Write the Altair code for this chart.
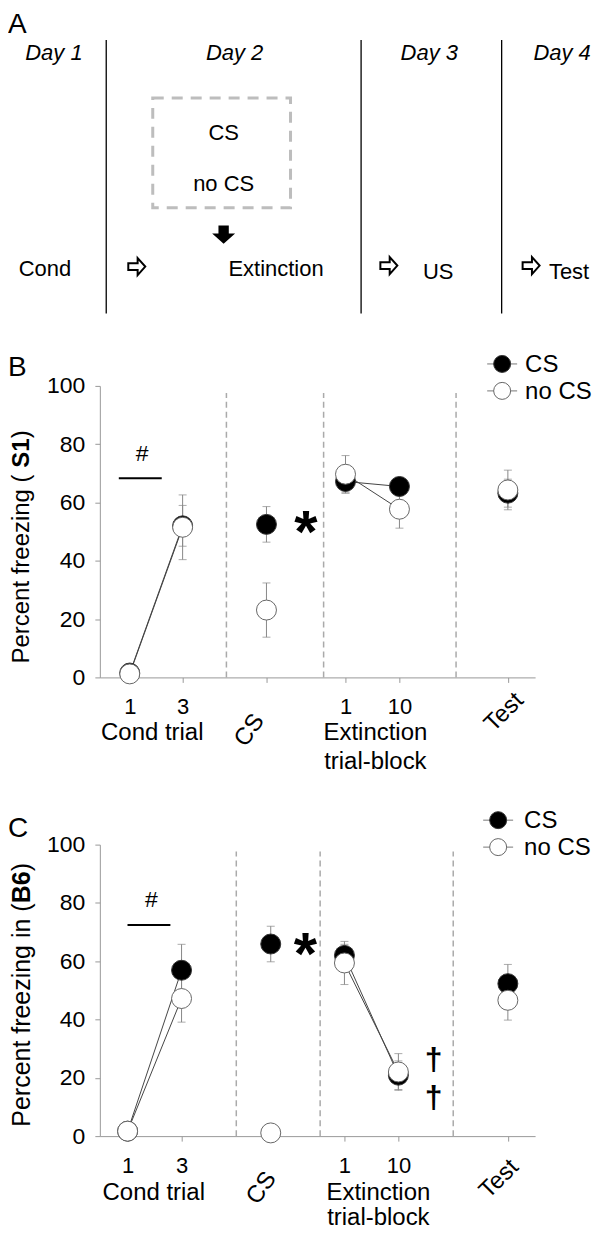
import altair as alt
import pandas as pd

FONT = "Liberation Sans"

# ---------------- data ----------------
stages = ["Cond 1", "Cond 3", "CS", "Ext 1", "Ext 10", "Test"]
tick_text = ["1", "3", "", "1", "10", ""]
segments = ["cond", "cond", "none", "ext", "ext", "none"]
groups = ["CS", "no CS"]

# Panel B (S1)
s1_cs_mean = [1.5, 52.0, 52.5, 67.2, 65.5, 63.2]
s1_cs_sem = [0.5, 7.0, 6.1, 4.0, 3.0, 4.8]
s1_nocs_mean = [1.2, 51.5, 23.1, 69.7, 57.7, 64.3]
s1_nocs_sem = [0.5, 11.1, 9.3, 6.4, 6.5, 6.8]

# Panel C (B6)
b6_cs_mean = [1.7, 56.9, 65.9, 62.0, 20.9, 52.3]
b6_cs_sem = [0.5, 8.9, 6.1, 3.8, 4.9, 6.6]
b6_nocs_mean = [1.7, 47.2, 1.1, 59.4, 22.0, 46.6]
b6_nocs_sem = [0.5, 8.1, 0.5, 7.4, 6.3, 6.8]

# Panel A schematic texts
day_labels = ["Day 1", "Day 2", "Day 3", "Day 4"]
box_labels = ["CS", "no CS"]
phase_labels = ["Cond", "Extinction", "US", "Test"]

# ---------------- layout ----------------
slots_B = {"Cond 1": 0.56, "Cond 3": 1.55, "CS": 3.12, "Ext 1": 4.6, "Ext 10": 5.61, "Test": 7.64}
slots_C = {"Cond 1": 0.52, "Cond 3": 1.53, "CS": 3.2, "Ext 1": 4.58, "Ext 10": 5.59, "Test": 7.64}
dividers_B = [2.37, 4.19, 6.67]
dividers_C = [2.555, 4.125, 6.617]

RIGHT_ARROW = "M-1,-0.4L0.1,-0.4L0.1,-1L1,0L0.1,1L0.1,0.4L-1,0.4Z"
DOWN_ARROW = "M-0.45,-0.8L0.45,-0.8L0.45,-0.1L1,-0.1L0,0.8L-1,-0.1L-0.45,-0.1Z"

W = 436
H = 292
dummy = pd.DataFrame({"k": [0]})


def lab(text, x, y, size=24, angle=0, weight="normal", align="center",
        baseline="middle", style="normal"):
    return alt.Chart(dummy).mark_text(
        text=text, fontSize=size, angle=angle, fontWeight=weight, align=align,
        baseline=baseline, fontStyle=style, color="black"
    ).encode(x=alt.value(x), y=alt.value(y))


# ---------------- Panel A ----------------
AXS = alt.Scale(domain=[100, 536], nice=False, zero=False)
AYS = alt.Scale(domain=[8, 217.5], nice=False, zero=False, reverse=True)


def ax(f):
    return alt.X(f, type="quantitative", scale=AXS, axis=None)


def ay(f):
    return alt.Y(f, type="quantitative", scale=AYS, axis=None)


a_lines = alt.Chart(pd.DataFrame({"x": [106.4, 361.7, 502.5], "y": [39] * 3, "y2": [313] * 3})).mark_rule(
    color="black", strokeWidth=1.3).encode(x=ax("x"), y=ay("y"), y2=alt.Y2("y2"))
a_box = alt.Chart(pd.DataFrame({"x": [153], "x2": [291], "y": [97], "y2": [207]})).mark_rect(
    fill="transparent", stroke="#bdbdbd", strokeWidth=3, strokeDash=[11, 8]
).encode(x=ax("x"), x2=alt.X2("x2"), y=ay("y"), y2=alt.Y2("y2"))
a_days = alt.Chart(pd.DataFrame({"label": day_labels, "x": [54, 235, 430, 563], "y": [52] * 4})).mark_text(
    fontSize=22, fontStyle="italic", baseline="middle", color="black"
).encode(x=ax("x"), y=ay("y"), text="label:N")
a_boxtxt = alt.Chart(pd.DataFrame({"label": box_labels, "x": [224, 224], "y": [132, 183]})).mark_text(
    fontSize=22, baseline="middle", color="black"
).encode(x=ax("x"), y=ay("y"), text="label:N")
a_phase = alt.Chart(pd.DataFrame({"label": phase_labels, "x": [45, 276.5, 439, 570],
                                  "y": [268.4, 268.4, 271.4, 271.4]})).mark_text(
    fontSize=22, baseline="middle", color="black"
).encode(x=ax("x"), y=ay("y"), text="label:N")
a_arrows = alt.Chart(pd.DataFrame({"x": [137, 389.5, 532], "y": [266, 265, 265]})).mark_point(
    shape=RIGHT_ARROW, size=289, filled=True, fill="white", stroke="black", strokeWidth=2, opacity=1
).encode(x=ax("x"), y=ay("y"))
a_down = alt.Chart(pd.DataFrame({"x": [224], "y": [234]})).mark_point(
    shape=DOWN_ARROW, size=529, filled=True, fill="black", opacity=1
).encode(x=ax("x"), y=ay("y"))
a_letter = alt.Chart(pd.DataFrame({"label": ["A"], "x": [8], "y": [32]})).mark_text(
    fontSize=28, align="left", baseline="alphabetic", color="black"
).encode(x=ax("x"), y=ay("y"), text="label:N")

panel_A = alt.layer(a_lines, a_box, a_days, a_boxtxt, a_phase, a_arrows, a_down, a_letter).properties(
    width=W, height=209.5)

# ---------------- Panels B, C ----------------
fill_scale = alt.Scale(domain=groups, range=["black", "white"])


def panel(letter, letter_y, cs_mean, cs_sem, nocs_mean, nocs_sem, slots, dividers,
          hash_xy, bar_x, bar_y, star_xy, daggers, title_parts, title_x, title_size,
          cond_x, cond_y, ext_x, ext_y, block_y, cs_lab, test_lab, legend_x, legend_ys, legend_tx):
    xsc = alt.Scale(domain=[0, 8.15], nice=False, zero=False)
    ysc = alt.Scale(domain=[0, 100], nice=False, zero=False)
    tick_vals = [slots[s] for s in stages]
    expr = "".join(f"datum.value == {slots[s]} ? '{t}' : " for s, t in zip(stages, tick_text)) + "''"
    xaxis = alt.Axis(values=tick_vals, labelExpr=expr, tickSize=5, labelPadding=14, labelFontSize=22,
                     labelColor="black", domainColor="#999", tickColor="#999", grid=False, title=None,
                     labelFlush=False, labelOverlap=False, labelFont=FONT)
    yaxis = alt.Axis(values=[0, 20, 40, 60, 80, 100], tickSize=5, labelPadding=10, labelFontSize=23,
                     labelColor="black", domainColor="#999", tickColor="#999", grid=False, title=None,
                     labelFont=FONT)

    def xe(f):
        return alt.X(f, type="quantitative", scale=xsc, axis=xaxis)

    def ye(f):
        return alt.Y(f, type="quantitative", scale=ysc, axis=yaxis)

    rows = []
    for g, means, sems in (("CS", cs_mean, cs_sem), ("no CS", nocs_mean, nocs_sem)):
        for st, m, s, seg in zip(stages, means, sems, segments):
            rows.append(dict(stage=st, group=g, mean=m, lo=m - s, hi=m + s, pos=slots[st], seg=seg))
    pts = pd.DataFrame(rows)
    base = alt.Chart(pts)

    div = alt.Chart(pd.DataFrame({"pos": dividers, "y0": [0] * 3, "y1": [97.6] * 3})).mark_rule(
        color="#aaa", strokeDash=[6, 4], strokeWidth=1.5).encode(x=xe("pos"), y=ye("y0"), y2=alt.Y2("y1"))
    lines = base.transform_filter("datum.seg != 'none'").mark_line(color="#444", strokeWidth=1).encode(
        x=xe("pos"), y=ye("mean"), detail=["group:N", "seg:N"])
    err = base.mark_rule(color="#888", strokeWidth=1).encode(x=xe("pos"), y=ye("lo"), y2=alt.Y2("hi"))
    cap_lo = base.mark_tick(orient="horizontal", size=8, thickness=1, color="#888").encode(
        x=xe("pos"), y=ye("lo"))
    cap_hi = base.mark_tick(orient="horizontal", size=8, thickness=1, color="#888").encode(
        x=xe("pos"), y=ye("hi"))
    p_cs = base.transform_filter("datum.group == 'CS'").mark_point(
        shape="circle", size=400, filled=True, opacity=1, stroke="#333", strokeWidth=1).encode(
        x=xe("pos"), y=ye("mean"), fill=alt.Fill("group:N", scale=fill_scale, legend=None))
    p_no = base.transform_filter("datum.group == 'no CS'").mark_point(
        shape="circle", size=400, filled=True, opacity=1, stroke="#666", strokeWidth=1).encode(
        x=xe("pos"), y=ye("mean"), fill=alt.Fill("group:N", scale=fill_scale, legend=None))

    bar = alt.Chart(pd.DataFrame({"x0": [bar_x[0]], "x1": [bar_x[1]], "y": [bar_y]})).mark_rule(
        color="black", strokeWidth=2).encode(x=xe("x0"), x2=alt.X2("x1"), y=ye("y"))
    hsh = alt.Chart(pd.DataFrame({"pos": [hash_xy[0]], "mean": [hash_xy[1]], "t": ["#"]})).mark_text(
        fontSize=23, baseline="middle", color="black").encode(x=xe("pos"), y=ye("mean"), text="t:N")
    star = alt.Chart(pd.DataFrame({"pos": [star_xy[0]], "mean": [star_xy[1]], "t": ["*"]})).mark_text(
        fontSize=60, fontWeight="bold", baseline="middle", dy=12, color="black").encode(
        x=xe("pos"), y=ye("mean"), text="t:N")
    layers = [div, lines, err, cap_lo, cap_hi, p_cs, p_no, bar, hsh, star]
    if daggers:
        dg = alt.Chart(pd.DataFrame({"pos": [d[0] for d in daggers], "mean": [d[1] for d in daggers],
                                     "t": ["\u2020"] * len(daggers)})).mark_text(
            fontSize=32, fontWeight="bold", baseline="middle", color="black").encode(
            x=xe("pos"), y=ye("mean"), text="t:N")
        layers.append(dg)

    # category labels under the axis
    layers += [
        lab("Cond trial", cond_x, cond_y),
        lab("Extinction", ext_x, ext_y),
        lab("trial-block", ext_x, block_y),
        lab("CS", cs_lab[0], cs_lab[1], angle=305),
        lab("Test", test_lab[0], test_lab[1], angle=315),
        lab(letter, -92, letter_y, size=28, align="left", baseline="alphabetic"),
    ]
    # y-axis title with a bold strain name
    for text, weight, y in title_parts:
        layers.append(lab(text, title_x, y, size=title_size, angle=270, weight=weight,
                          align="left"))
    # legend
    for g, ly in zip(groups, legend_ys):
        layers.append(alt.Chart(dummy).mark_rule(color="#777", strokeWidth=1).encode(
            x=alt.value(legend_x - 15), x2=alt.value(legend_x + 15), y=alt.value(ly)))
        layers.append(alt.Chart(pd.DataFrame({"group": [g]})).mark_point(
            shape="circle", size=289, filled=True, opacity=1,
            stroke="#333" if g == "CS" else "#666", strokeWidth=1).encode(
            x=alt.value(legend_x), y=alt.value(ly),
            fill=alt.Fill("group:N", scale=fill_scale, legend=None)))
        layers.append(lab(g, legend_tx, ly + 1, align="left"))
    return alt.layer(*layers).properties(width=W, height=H)


panel_B = panel(
    "B", -10, s1_cs_mean, s1_cs_sem, s1_nocs_mean, s1_nocs_sem, slots_B, dividers_B,
    hash_xy=(0.794, 76.8), bar_x=(0.355, 1.159), bar_y=68.3, star_xy=(3.86, 53.3), daggers=[],
    title_parts=[("Percent freezing (", "normal", 278), ("S1", "bold", 81.9), (")", "normal", 52.5)],
    title_x=-78, title_size=24, cond_x=52.5, cond_y=348, ext_x=276, ext_y=348, block_y=377,
    cs_lab=(150, 345), test_lab=(405, 327), legend_x=403, legend_ys=[-22, 5], legend_tx=426)

panel_C = panel(
    "C", -7.5, b6_cs_mean, b6_cs_sem, b6_nocs_mean, b6_nocs_sem, slots_C, dividers_C,
    hash_xy=(0.963, 81.0), bar_x=(0.518, 1.321), bar_y=72.4, star_xy=(3.85, 66.0),
    daggers=[(6.25, 26.2), (6.25, 13.2)],
    title_parts=[("Percent freezing in (", "normal", 282.5), ("B6", "bold", 58.8), (")", "normal", 26.8)],
    title_x=-77.5, title_size=25, cond_x=54, cond_y=349, ext_x=279, ext_y=349, block_y=374,
    cs_lab=(162, 344), test_lab=(400, 335), legend_x=399, legend_ys=[-24.5, 2.5], legend_tx=425)

chart = alt.vconcat(panel_A, panel_B, panel_C, spacing=167.5, bounds="flush").properties(
    padding=0).configure(font=FONT).configure_view(stroke=None)

chart.save("out.html", embed_options={"renderer": "svg", "actions": False})
